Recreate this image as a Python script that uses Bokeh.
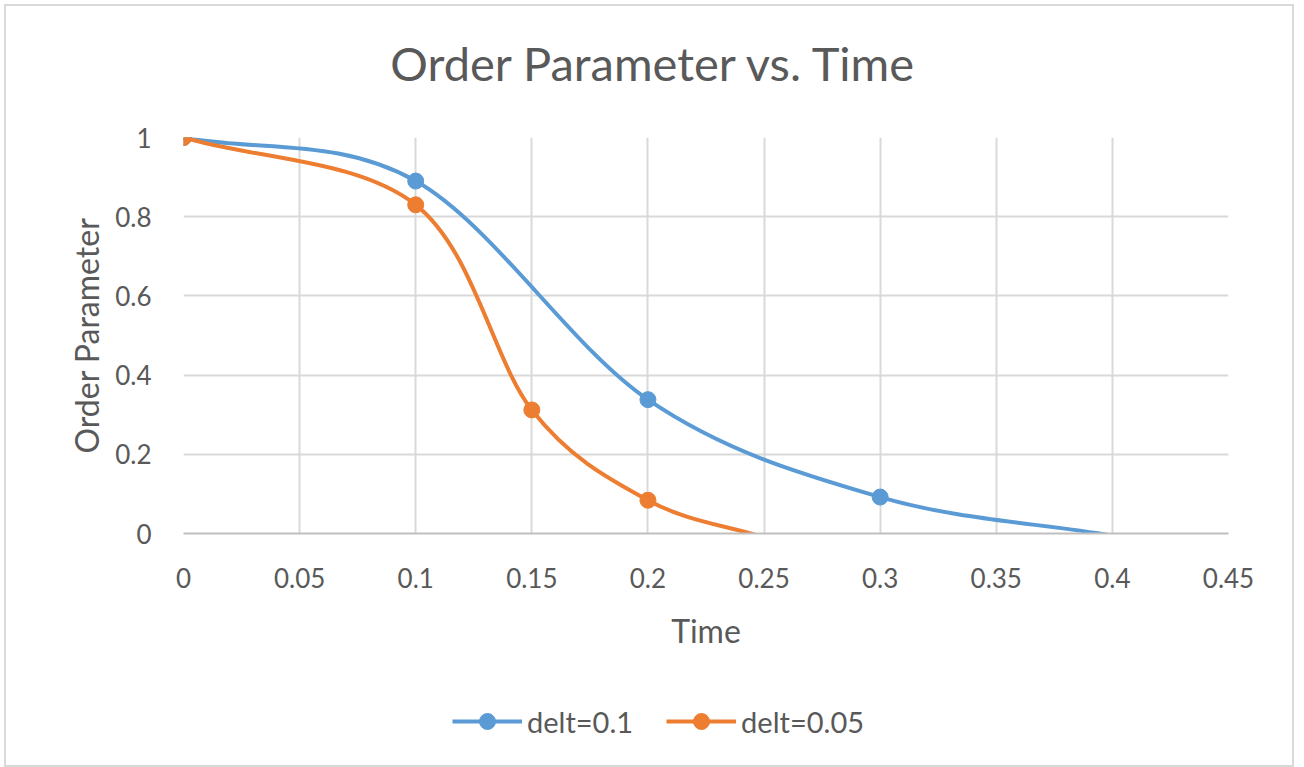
import numpy as np
from bokeh.plotting import figure
from bokeh.layouts import column
from bokeh.models import Range1d, FixedTicker, Legend, LegendItem, ColumnDataSource, Label
from bokeh.embed import file_html
from bokeh.resources import INLINE

# ---- data ----
title_text = "Order Parameter vs. Time"
x_title = "Time"
y_title = "Order Parameter"

time_a = [0.0, 0.1, 0.2, 0.3, 0.4]
order_a = [1.0, 0.89, 0.338, 0.092, -0.005]
label_a = "delt=0.1"

time_b = [0.0, 0.1, 0.15, 0.2, 0.25]
order_b = [1.0, 0.83, 0.312, 0.084, -0.01]
label_b = "delt=0.05"

x_ticks = [0, 0.05, 0.1, 0.15, 0.2, 0.25, 0.3, 0.35, 0.4, 0.45]
x_tick_labels = ["0", "0.05", "0.1", "0.15", "0.2", "0.25", "0.3", "0.35", "0.4", "0.45"]
y_ticks = [0, 0.2, 0.4, 0.6, 0.8, 1.0]
y_tick_labels = ["0", "0.2", "0.4", "0.6", "0.8", "1"]

BLUE = "#5B9BD5"
ORANGE = "#ED7D31"
TEXT = "#595959"
GRID = "#D9D9D9"
FONT = "Lato"


def smooth_segments(xs, ys):
    """Catmull-Rom style Bezier control points (Excel-like smoothed line)."""
    P = np.column_stack([xs, ys]).astype(float)
    n = len(P)
    m = np.zeros_like(P)
    for i in range(n):
        if i == 0:
            m[i] = P[1] - P[0]
        elif i == n - 1:
            m[i] = P[-1] - P[-2]
        else:
            m[i] = (P[i + 1] - P[i - 1]) / 2.0
    c0 = P[:-1] + m[:-1] / 3.0
    c1 = P[1:] - m[1:] / 3.0
    return dict(x0=P[:-1, 0], y0=P[:-1, 1], x1=P[1:, 0], y1=P[1:, 1],
                cx0=c0[:, 0], cy0=c0[:, 1], cx1=c1[:, 0], cy1=c1[:, 1])


W = 1286


def strip(height, xr):
    f = figure(width=W, height=height, output_backend="svg", toolbar_location=None,
               x_range=xr, y_range=Range1d(0, 1), title=None,
               x_axis_type=None, y_axis_type=None, min_border=0)
    f.outline_line_color = None
    f.grid.visible = False
    f.background_fill_color = "white"
    f.border_fill_color = "white"
    return f


# title strip
t = strip(100, Range1d(0, 0.45))
t.add_layout(Label(x=0.2028, y=0.44, text=title_text, text_align="center",
                   text_baseline="middle", text_font=FONT,
                   text_font_size="47px", text_color=TEXT))

# main chart
p = figure(width=W, height=590, output_backend="svg", toolbar_location=None,
           x_range=Range1d(0, 0.45), y_range=Range1d(0, 1.0), title=None,
           min_border_left=177, min_border_right=64,
           min_border_top=31, min_border_bottom=163)
p.outline_line_color = None
p.background_fill_color = "white"
p.border_fill_color = "white"

p.xaxis.ticker = FixedTicker(ticks=x_ticks)
p.yaxis.ticker = FixedTicker(ticks=y_ticks)
p.xaxis.major_label_overrides = {t_: l for t_, l in zip(x_ticks, x_tick_labels)}
p.yaxis.major_label_overrides = {t_: l for t_, l in zip(y_ticks, y_tick_labels)}
for ax in (p.xaxis, p.yaxis):
    ax.major_tick_line_color = None
    ax.minor_tick_line_color = None
    ax.major_label_text_font = FONT
    ax.major_label_text_font_size = "26px"
    ax.major_label_text_color = TEXT
    ax.axis_label_text_font = FONT
    ax.axis_label_text_font_size = "32px"
    ax.axis_label_text_color = TEXT
    ax.axis_label_text_font_style = "normal"
p.xaxis.axis_label = x_title
p.yaxis.axis_label = y_title
p.xaxis.axis_line_color = "#BFBFBF"
p.xaxis.axis_line_width = 2
p.yaxis.axis_line_color = None
p.xaxis.major_label_standoff = 28
p.yaxis.major_label_standoff = 26
p.xaxis.axis_label_standoff = 20
p.yaxis.axis_label_standoff = 6

p.xgrid.ticker = FixedTicker(ticks=x_ticks)
p.ygrid.ticker = FixedTicker(ticks=y_ticks)
for g in (p.xgrid, p.ygrid):
    g.grid_line_color = GRID
    g.grid_line_width = 2

# legend strip (its view range lies away from the data, so only the legend shows)
q = strip(69, Range1d(10, 11))

items = []
for xs, ys, col, lab in ((time_a, order_a, BLUE, label_a), (time_b, order_b, ORANGE, label_b)):
    seg = ColumnDataSource(smooth_segments(xs, ys))
    p.bezier(x0="x0", y0="y0", x1="x1", y1="y1", cx0="cx0", cy0="cy0",
             cx1="cx1", cy1="cy1", source=seg, line_color=col, line_width=4)
    # markers that fall below the axis minimum are hidden, as in the original
    vis_x = [x for x, y in zip(xs, ys) if y >= 0]
    vis_y = [y for y in ys if y >= 0]
    p.scatter(vis_x, vis_y, marker="circle", size=16, fill_color=col, line_color=col)
    lk = q.line(xs, ys, line_color=col, line_width=4)
    mk = q.scatter(xs, ys, marker="circle", size=16, fill_color=col, line_color=col)
    items.append(LegendItem(label=lab, renderers=[lk, mk]))

legend = Legend(items=items, orientation="horizontal", location=(269, 24),
                border_line_color=None, background_fill_alpha=0,
                label_text_font=FONT, label_text_font_size="29px", label_text_color=TEXT,
                glyph_width=70, glyph_height=40, label_standoff=5, spacing=33,
                padding=0, margin=0)
q.add_layout(legend)

layout = column(t, p, q, spacing=0)
layout.styles = {"border": "2px solid #D9D9D9", "margin-left": "4px", "margin-top": "4px"}

open("out.html", "w").write(file_html(layout, INLINE))
